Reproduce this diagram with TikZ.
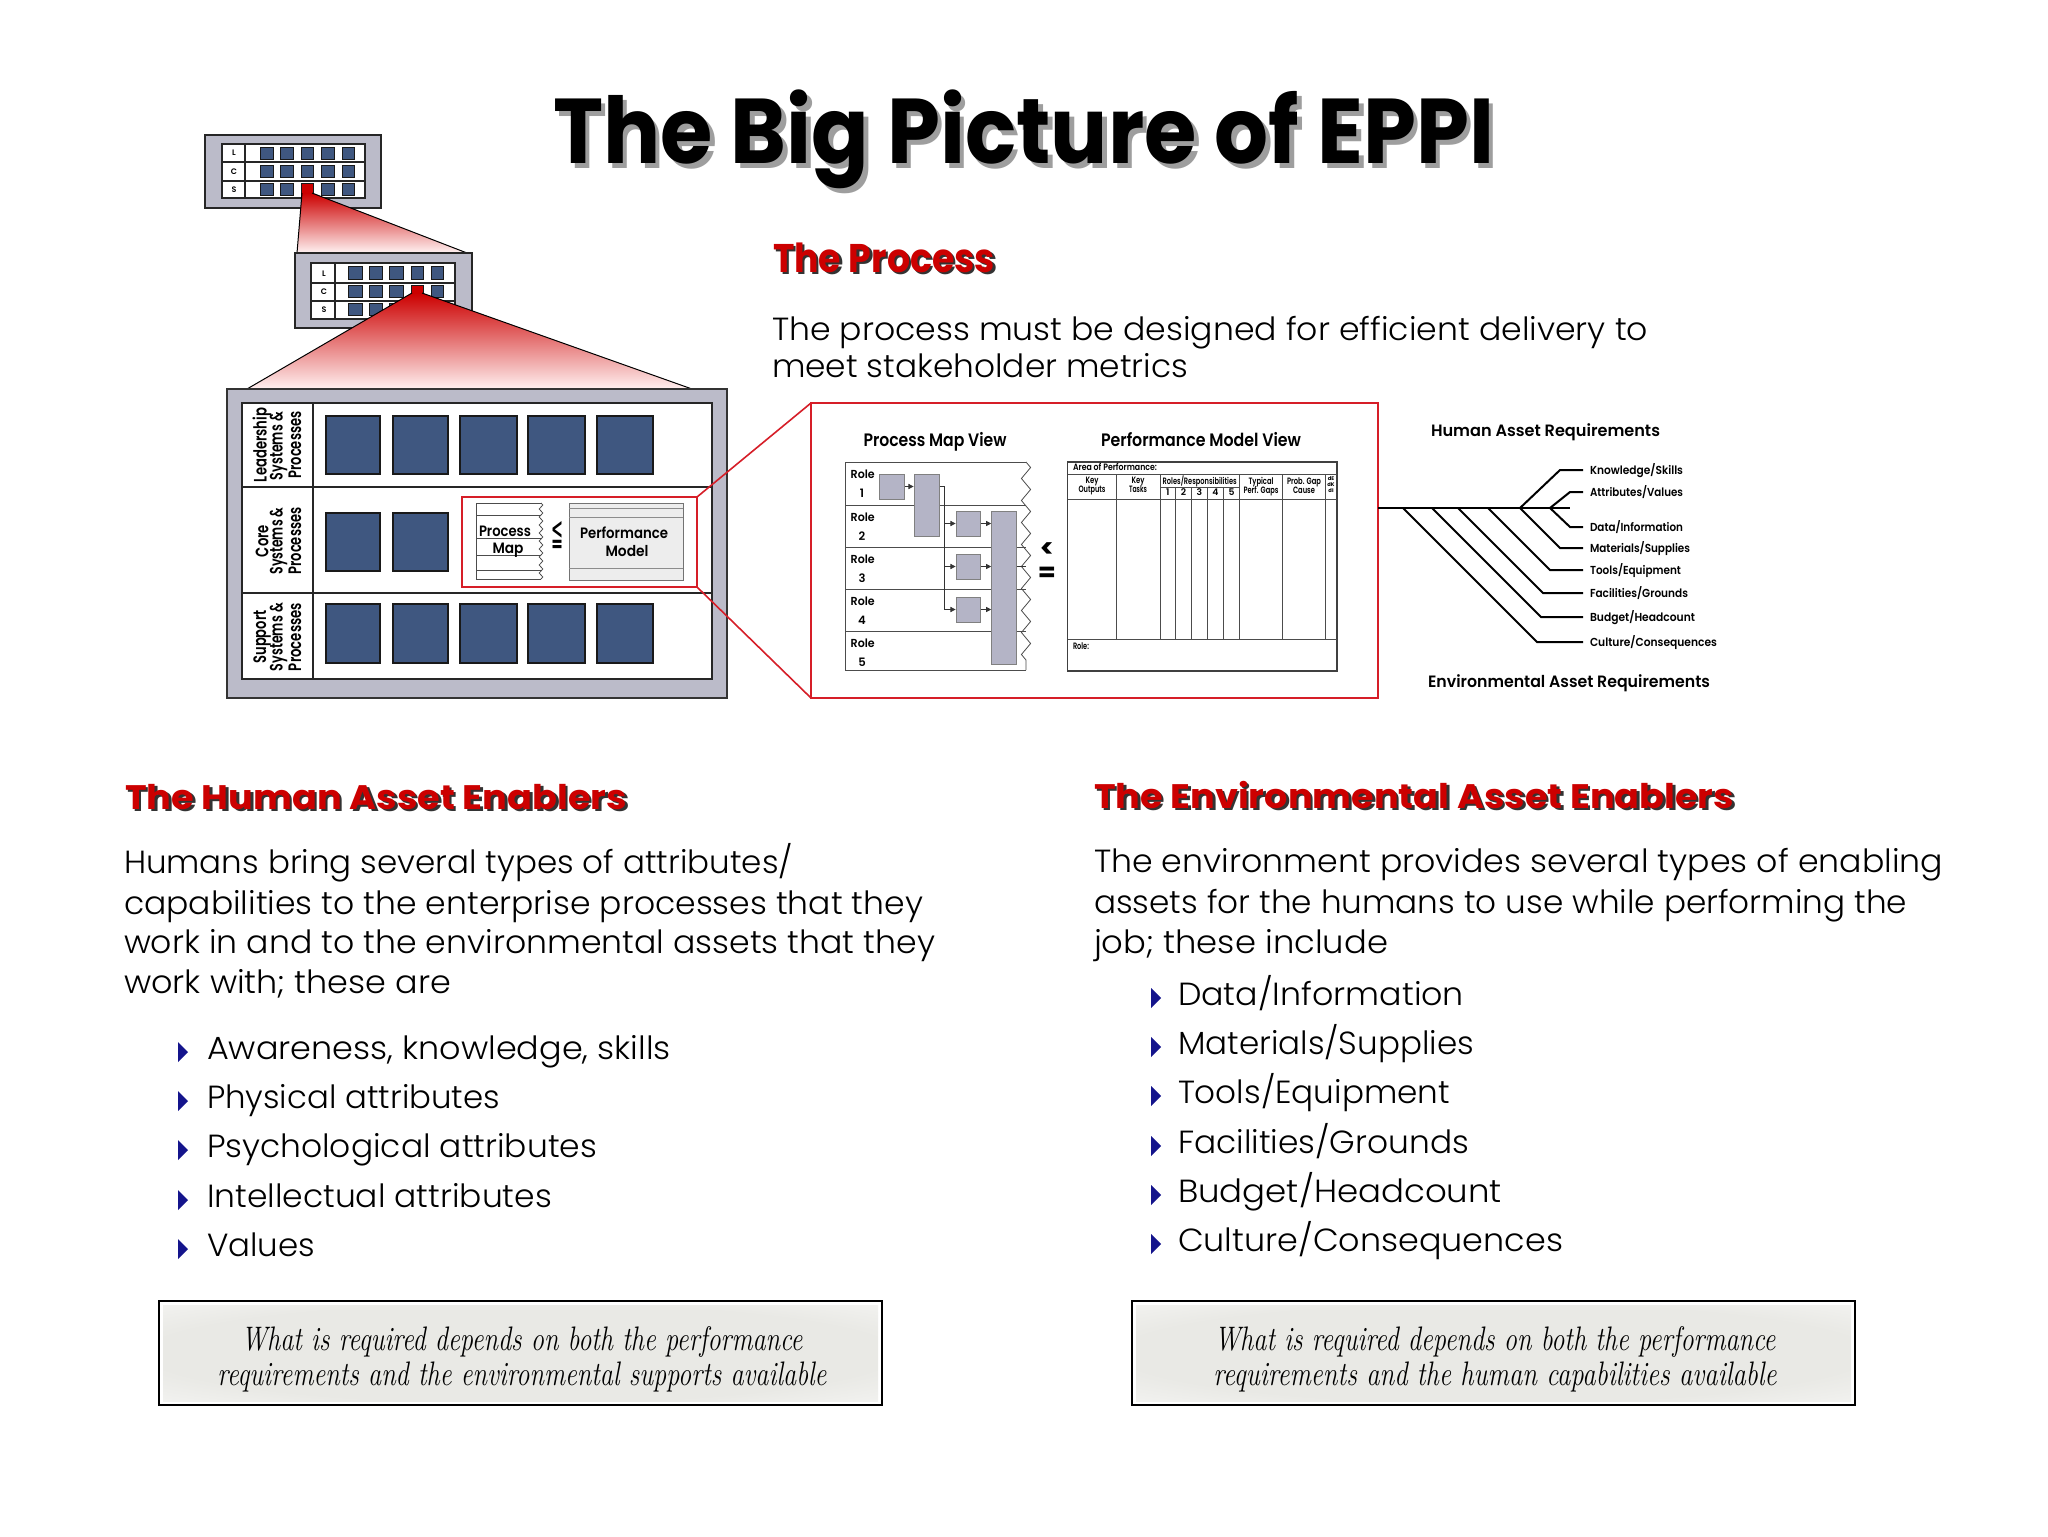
\documentclass[tikz,border=0pt]{standalone}
\usepackage{fontspec}
\usepackage{graphicx}
\usetikzlibrary{arrows.meta,decorations.pathmorphing}
\newfontfamily\pop{Poppins}
\newfontfamily\djv{DejaVu Sans}
\IfFontExistsTF{Poppins Light}{\newfontfamily\popl{Poppins Light}}{\newfontfamily\popl{Poppins}}
\IfFontExistsTF{Poppins SemiBold}{\newfontfamily\popsb{Poppins SemiBold}}{\newcommand\popsb{\pop\bfseries}}
\newdimen\pxu
\pxu=0.5pt
\newcommand\fitw[2]{\resizebox{#1\pxu}{\height}{#2}}
\newcommand\shtext[3]{\makebox[0pt][l]{\hspace*{#1}\raisebox{-#1}{\color{#2}#3}}#3}
\definecolor{redc}{RGB}{204,0,0}
\definecolor{framered}{RGB}{214,30,40}
\definecolor{panelgray}{RGB}{187,187,201}
\definecolor{sqblue}{RGB}{63,87,128}
\definecolor{procgray}{RGB}{180,180,198}
\definecolor{navyb}{RGB}{20,20,140}
\definecolor{glowc}{RGB}{233,233,229}
\pgfdeclareradialshading{glow}{\pgfpoint{0bp}{0bp}}{color(0bp)=(glowc); color(26bp)=(glowc); color(50bp)=(white)}
\tikzset{
  tx/.style={inner sep=0pt, outer sep=0pt, anchor=base west, text=black},
  titlef/.style={tx, font=\pop\bfseries\fontsize{46}{50}\selectfont},
  headf/.style={tx, font=\pop\bfseries\fontsize{17}{20}\selectfont, text=redc},
  headbig/.style={tx, font=\pop\bfseries\fontsize{20}{24}\selectfont, text=redc},
  bodyf/.style={tx, font=\popl\fontsize{16}{19}\selectfont},
  quotef/.style={tx, anchor=base, font=\itshape\fontsize{17}{19}\selectfont},
  lbl/.style={inner sep=0pt, anchor=center, rotate=90, font=\popsb\fontsize{9}{10}\selectfont},
  smallb/.style={tx, anchor=base, font=\popsb\fontsize{7.5}{8}\selectfont},
  viewf/.style={tx, anchor=base, font=\popsb\fontsize{9}{10}\selectfont},
  rolef/.style={tx, font=\popsb\fontsize{5.8}{7}\selectfont},
  tinyf/.style={tx, anchor=base, font=\popsb\fontsize{4.6}{5}\selectfont},
  reqf/.style={tx, font=\popsb\fontsize{8.2}{9}\selectfont},
  brf/.style={tx, font=\popsb\fontsize{5.8}{6.5}\selectfont},
  lcs/.style={inner sep=0pt, anchor=center, font=\popsb\fontsize{4}{4}\selectfont},
  boxline/.style={draw=black!85, line width=0.8pt},
  smsq/.style={draw=black!90, fill=sqblue, line width=0.5pt},
  bigsq/.style={draw=black!90, fill=sqblue, line width=0.8pt},
  pbox/.style={draw=black!50, fill=procgray, inner sep=0pt, line width=0.4pt},
  pline/.style={line width=0.4pt, draw=black!80},
  parrow/.style={pline, -{Triangle[length=2.6pt,width=2.6pt]}},
  branch/.style={line width=1pt, draw=black},
  tline/.style={line width=0.4pt, draw=black!70},
}
\begin{document}
\begin{tikzpicture}[x=0.5pt,y=-0.5pt]
\useasboundingbox (0,0) rectangle (2048,1536);
\fill[white] (0,0) rectangle (2048,1536);

% ---------- title ----------
\node[titlef] (title) at (553,163) {\fitw{941}{\shtext{2.6pt}{black!38}{The Big Picture of EPPI}}};

% ---------- small box 1 ----------
\draw[boxline, fill=panelgray] (205,135) rectangle (381,208);
\draw[boxline, fill=white] (222,144) rectangle (365,198);
\draw[boxline] (245,144) -- (245,198) (222,162) -- (365,162) (222,181) -- (365,181);
\node[lcs] (b1L) at (234,153) {L};
\node[lcs] (b1C) at (234,171.5) {C};
\node[lcs] (b1S) at (234,190) {S};
\foreach \xa/\xb in {260/273,280/293,301/313,321/334,342/354}
  \foreach \ya/\yb in {147/159,165.5/177.5,183.5/195}
    \draw[smsq] (\xa,\ya) rectangle (\xb,\yb);
\draw[smsq, fill=redc] (301,183.5) rectangle (313,193.5);

% funnel 1
\shade[top color=redc, bottom color=red!5] (302,193) -- (312,193) -- (467,253) -- (297,253) -- cycle;
\draw[line width=0.5pt] (302,193) -- (297,253) (312,193) -- (467,253);

% ---------- small box 2 ----------
\draw[boxline, fill=panelgray] (295,253) rectangle (472,328);
\draw[boxline, fill=white] (311,263) rectangle (455,319);
\draw[boxline] (335,263) -- (335,319) (311,283) -- (455,283) (311,301) -- (455,301);
\node[lcs] (b2L) at (324,273.5) {L};
\node[lcs] (b2C) at (324,292) {C};
\node[lcs] (b2S) at (324,310) {S};
\foreach \xa/\xb in {348/362,369/382,389/403,411/423,431/443}
  \foreach \ya/\yb in {266.5/279,285/297,303/315}
    \draw[smsq] (\xa,\ya) rectangle (\xb,\yb);
\draw[smsq, fill=redc] (411,285) rectangle (423,293);

% funnel 2
\shade[top color=redc, bottom color=red!6] (412,293) -- (422,293) -- (692,389) -- (247,389) -- cycle;
\draw[line width=0.5pt] (412,293) -- (247,389) (422,293) -- (692,389);

% ---------- big box ----------
\draw[draw=black!80, line width=1.1pt, fill=panelgray] (227,389) rectangle (727,698);
\draw[boxline, line width=1pt, fill=white] (242,403) rectangle (712,679);
\draw[boxline, line width=1pt] (313,403) -- (313,679) (242,487) -- (712,487) (242,593) -- (712,593);

\node[lbl] (l1a) at (262,445) {\fitw{74}{Leadership}};
\node[lbl] (l1b) at (278.5,446) {\fitw{68}{Systems \&}};
\node[lbl] (l1c) at (295,445) {\fitw{67}{Processes}};
\node[lbl] (l2a) at (262,541) {\fitw{32}{Core}};
\node[lbl] (l2b) at (278.5,541) {\fitw{67}{Systems \&}};
\node[lbl] (l2c) at (295,541) {\fitw{67}{Processes}};
\node[lbl] (l3a) at (262,637) {\fitw{53}{Support}};
\node[lbl] (l3b) at (278.5,637) {\fitw{68}{Systems \&}};
\node[lbl] (l3c) at (295,637) {\fitw{68}{Processes}};

\foreach \xa/\xb in {326/380,393/448,460/517,528/585,597/653}
  \foreach \ya/\yb in {416/474,604/663}
    \draw[bigsq] (\xa,\ya) rectangle (\xb,\yb);
\foreach \xa/\xb in {326/380,393/448}
  \draw[bigsq] (\xa,513) rectangle (\xb,571);

% red focus box
\draw[framered, line width=0.8pt] (462,497) rectangle (697,587);
\coordinate (rbTR) at (697,497);
\coordinate (rbBR) at (697,587);
% mini process map sheet
\draw[tline] (541,503) -- (476,503) -- (476,579) -- (541,579);
\draw[tline, decorate, decoration={zigzag, segment length=4pt, amplitude=0.9pt}] (541,503) -- (541,579);
\draw[tline] (476,515) -- (541,515) (476,538) -- (541,538) (476,555) -- (541,555) (476,570) -- (541,570);
\node[smallb] (pmA) at (505,536) {\fitw{52}{Process}};
\node[smallb] (pmB) at (508,553) {\fitw{31}{Map}};
\node[tx, anchor=center, font=\djv\fontsize{11}{11}\selectfont] (le1) at (557,535) {\resizebox{6pt}{12pt}{≦}};
% mini performance model
\draw[draw=black!55, line width=0.5pt, fill=black!7] (569,503) rectangle (683,580);
\draw[tline, draw=black!45] (569,508) -- (683,508) (569,517) -- (683,517) (569,568) -- (683,568);
\node[smallb] (pfA) at (624,538) {\fitw{88}{Performance}};
\node[smallb] (pfB) at (627,556) {\fitw{43}{Model}};

% ---------- process detail frame ----------
\draw[framered, line width=1.3pt, fill=white] (811,403) rectangle (1378,698);
\coordinate (frTL) at (811,403);
\coordinate (frBL) at (811,698);
\draw[framered, line width=0.8pt] (rbTR) -- (frTL) (rbBR) -- (frBL);

\node[viewf] (pmv) at (935,446) {\fitw{143}{Process Map View}};
\node[viewf] (pfv) at (1201,446) {\fitw{200}{Performance Model View}};

% process map sheet
\draw[tline] (1026,462) -- (845.5,462) -- (845.5,670) -- (1026,670);
\draw[tline, decorate, decoration={zigzag, segment length=11pt, amplitude=2.3pt}] (1026,462) -- (1026,670);
\foreach \yy in {505,547,589,631}
  \draw[tline] (845.5,\yy) -- (1026,\yy);
\foreach \yt/\n in {462/1,505/2,547/3,589/4,631/5} {
  \node[rolef] at (850.7,\yt+16) {\fitw{24}{Role}};
  \node[rolef, anchor=base] at (862,\yt+35) {\n};
}
\node[pbox, minimum width=12.6pt, minimum height=12.5pt] (A) at (892,486.5) {};
\node[pbox, minimum width=12.75pt, minimum height=31pt] (B) at (926.75,505) {};
\node[pbox, minimum width=12.25pt, minimum height=12.5pt] (C) at (968.25,523.5) {};
\node[pbox, minimum width=12.25pt, minimum height=12.5pt] (D) at (968.25,566.5) {};
\node[pbox, minimum width=12.25pt, minimum height=12.5pt] (E) at (968.25,609.5) {};
\node[pbox, minimum width=12.4pt, minimum height=76.5pt] (F) at (1004,587.5) {};
\draw[parrow] (A.east) -- (B.west |- A.east);
\draw[pline] (B.east |- A.east) -- ++(4.5,0) coordinate (bj) -- (bj |- E.west);
\draw[parrow] (bj |- C.west) -- (C.west);
\draw[parrow] (bj |- D.west) -- (D.west);
\draw[parrow] (bj |- E.west) -- (E.west);
\draw[parrow] (C.east) -- (F.west |- C.east);
\draw[parrow] (D.east) -- (F.west |- D.east);
\draw[parrow] (E.east) -- (F.west |- E.east);
\draw[pline] (F.east |- D.east) -- (1026,566.5);

\node[tx, anchor=base, font=\pop\bfseries\fontsize{13}{13}\selectfont] (le3) at (1047,557) {<};
\node[tx, anchor=base, font=\pop\bfseries\fontsize{13}{13}\selectfont] (le4) at (1047,581) {=};

% performance table
\draw[draw=black!75, line width=0.6pt] (1067.5,462) rectangle (1337,671);
\draw[tline] (1067.5,474) -- (1337,474) (1067.5,499) -- (1337,499) (1067.5,639) -- (1337,639) (1160,487) -- (1239.5,487);
\foreach \xx in {1116,1160,1239.5,1282.4,1325.4}
  \draw[tline] (\xx,474) -- (\xx,639);
\foreach \xx in {1175.5,1191.4,1207.3,1223.6}
  \draw[tline] (\xx,487) -- (\xx,639);
\node[tinyf, anchor=base west] (aop) at (1073,470.5) {\fitw{84}{Area of Performance:}};
\node[tinyf] (t1a) at (1092,483) {\fitw{13}{Key}};
\node[tinyf] (t1b) at (1092,492) {\fitw{27}{Outputs}};
\node[tinyf] (t2a) at (1138,483) {\fitw{13}{Key}};
\node[tinyf] (t2b) at (1138,492) {\fitw{18}{Tasks}};
\node[tinyf] (t3) at (1199.7,484) {\fitw{74}{Roles/Responsibilities}};
\foreach \xx/\n in {1167.8/1,1183.5/2,1199.4/3,1215.5/4,1231.5/5}
  \node[tinyf] at (\xx,495) {\n};
\node[tinyf] (t4a) at (1261,484) {\fitw{25}{Typical}};
\node[tinyf] (t4b) at (1261,493) {\fitw{35}{Perf. Gaps}};
\node[tinyf] (t5a) at (1304,484) {\fitw{34}{Prob. Gap}};
\node[tinyf] (t5b) at (1304,493) {\fitw{22}{Cause}};
\node[tinyf, font=\pop\bfseries\fontsize{2.6}{3}\selectfont] (t6a) at (1331,480) {dE};
\node[tinyf, font=\pop\bfseries\fontsize{2.6}{3}\selectfont] (t6b) at (1331,486) {dK};
\node[tinyf, font=\pop\bfseries\fontsize{2.6}{3}\selectfont] (t6c) at (1331,492) {dI};
\node[tinyf, anchor=base west] (trole) at (1073,649) {\fitw{16}{Role:}};

% ---------- requirements fishbone ----------
\node[reqf] (har) at (1431,436) {\fitw{229}{Human Asset Requirements}};
\node[reqf] (ear) at (1428,687) {\fitw{282}{Environmental Asset Requirements}};
\coordinate (spine0) at (1378,508);
\coordinate (spine1) at (1570,508);
\draw[branch] (spine0) -- (spine1);
\draw[branch] (1520,508) -- (1560,470) -- (1583,470);
\draw[branch] (1550,508) -- (1570,492) -- (1583,492);
\draw[branch] (1550,508) -- (1570,527) -- (1583,527);
\draw[branch] (1520,508) -- (1560,548) -- (1583,548);
\draw[branch] (1488,508) -- (1550,570) -- (1583,570);
\draw[branch] (1458,508) -- (1543,593) -- (1583,593);
\draw[branch] (1432,508) -- (1541,617) -- (1583,617);
\draw[branch] (1403,508) -- (1537,642) -- (1583,642);
\node[brf] (br1) at (1590,474.5) {\fitw{93}{Knowledge/Skills}};
\node[brf] (br2) at (1590,496.5) {\fitw{93}{Attributes/Values}};
\node[brf] (br3) at (1590,531.5) {\fitw{93}{Data/Information}};
\node[brf] (br4) at (1590,552.5) {\fitw{100}{Materials/Supplies}};
\node[brf] (br5) at (1590,574.5) {\fitw{91}{Tools/Equipment}};
\node[brf] (br6) at (1590,597.5) {\fitw{98}{Facilities/Grounds}};
\node[brf] (br7) at (1590,621.5) {\fitw{105}{Budget/Headcount}};
\node[brf] (br8) at (1590,646.5) {\fitw{127}{Culture/Consequences}};

% ---------- The Process text ----------
\node[headbig] (proc) at (773,272) {\fitw{222}{\shtext{1.3pt}{black!80}{The Process}}};
\node[bodyf] (p1) at (772,340) {\fitw{876}{The process must be designed for efficient delivery to}};
\node[bodyf] (p2) at (772,377) {\fitw{416}{meet stakeholder metrics}};

% ---------- Human Asset Enablers ----------
\node[headf] (hhead) at (125,809) {\fitw{502}{\shtext{1.2pt}{black!80}{The Human Asset Enablers}}};
\node[bodyf] (h1) at (124,873) {\fitw{669}{Humans bring several types of attributes/}};
\node[bodyf] (h2) at (124,914) {\fitw{799}{capabilities to the enterprise processes that they}};
\node[bodyf] (h3) at (124,953) {\fitw{811}{work in and to the environmental assets that they}};
\node[bodyf] (h4) at (124,993) {\fitw{327}{work with; these are}};
\foreach \b in {1059,1108,1157,1207,1256}
  \fill[navyb] (178,\b-17) -- (188,\b-7) -- (178,\b+3) -- cycle;
\node[bodyf] (hb1) at (207,1059) {\fitw{464}{Awareness, knowledge, skills}};
\node[bodyf] (hb2) at (207,1108) {\fitw{293}{Physical attributes}};
\node[bodyf] (hb3) at (207,1157) {\fitw{390}{Psychological attributes}};
\node[bodyf] (hb4) at (207,1207) {\fitw{345}{Intellectual attributes}};
\node[bodyf] (hb5) at (207,1256) {\fitw{108}{Values}};

% ---------- Environmental Asset Enablers ----------
\node[headf] (ehead) at (1094,808) {\fitw{640}{\shtext{1.2pt}{black!80}{The Environmental Asset Enablers}}};
\node[bodyf] (e1) at (1094,872) {\fitw{849}{The environment provides several types of enabling}};
\node[bodyf] (e2) at (1094,913) {\fitw{813}{assets for the humans to use while performing the}};
\node[bodyf] (e3) at (1094,953) {\fitw{294}{job; these include}};
\foreach \b in {1005,1054,1103,1153,1202,1251}
  \fill[navyb] (1151,\b-17) -- (1161,\b-7) -- (1151,\b+3) -- cycle;
\node[bodyf] (eb1) at (1178,1005) {\fitw{286}{Data/Information}};
\node[bodyf] (eb2) at (1178,1054) {\fitw{296}{Materials/Supplies}};
\node[bodyf] (eb3) at (1178,1103) {\fitw{272}{Tools/Equipment}};
\node[bodyf] (eb4) at (1178,1153) {\fitw{291}{Facilities/Grounds}};
\node[bodyf] (eb5) at (1178,1202) {\fitw{324}{Budget/Headcount}};
\node[bodyf] (eb6) at (1178,1251) {\fitw{385}{Culture/Consequences}};

% ---------- bottom boxes ----------
\fill[white] (159,1301) rectangle (882,1405);
\shade[shading=glow] (163,1305) rectangle (878,1401);
\draw[draw=black, line width=1pt] (159,1301) rectangle (882,1405);
\node[quotef] (q1a) at (522,1350) {\fitw{561}{What is required depends on both the performance}};
\node[quotef] (q1b) at (522,1385) {\fitw{609}{requirements and the environmental supports available}};

\fill[white] (1132,1301) rectangle (1855,1405);
\shade[shading=glow] (1136,1305) rectangle (1851,1401);
\draw[draw=black, line width=1pt] (1132,1301) rectangle (1855,1405);
\node[quotef] (q2a) at (1495,1350) {\fitw{561}{What is required depends on both the performance}};
\node[quotef] (q2b) at (1495,1385) {\fitw{563}{requirements and the human capabilities available}};
\end{tikzpicture}
\end{document}
